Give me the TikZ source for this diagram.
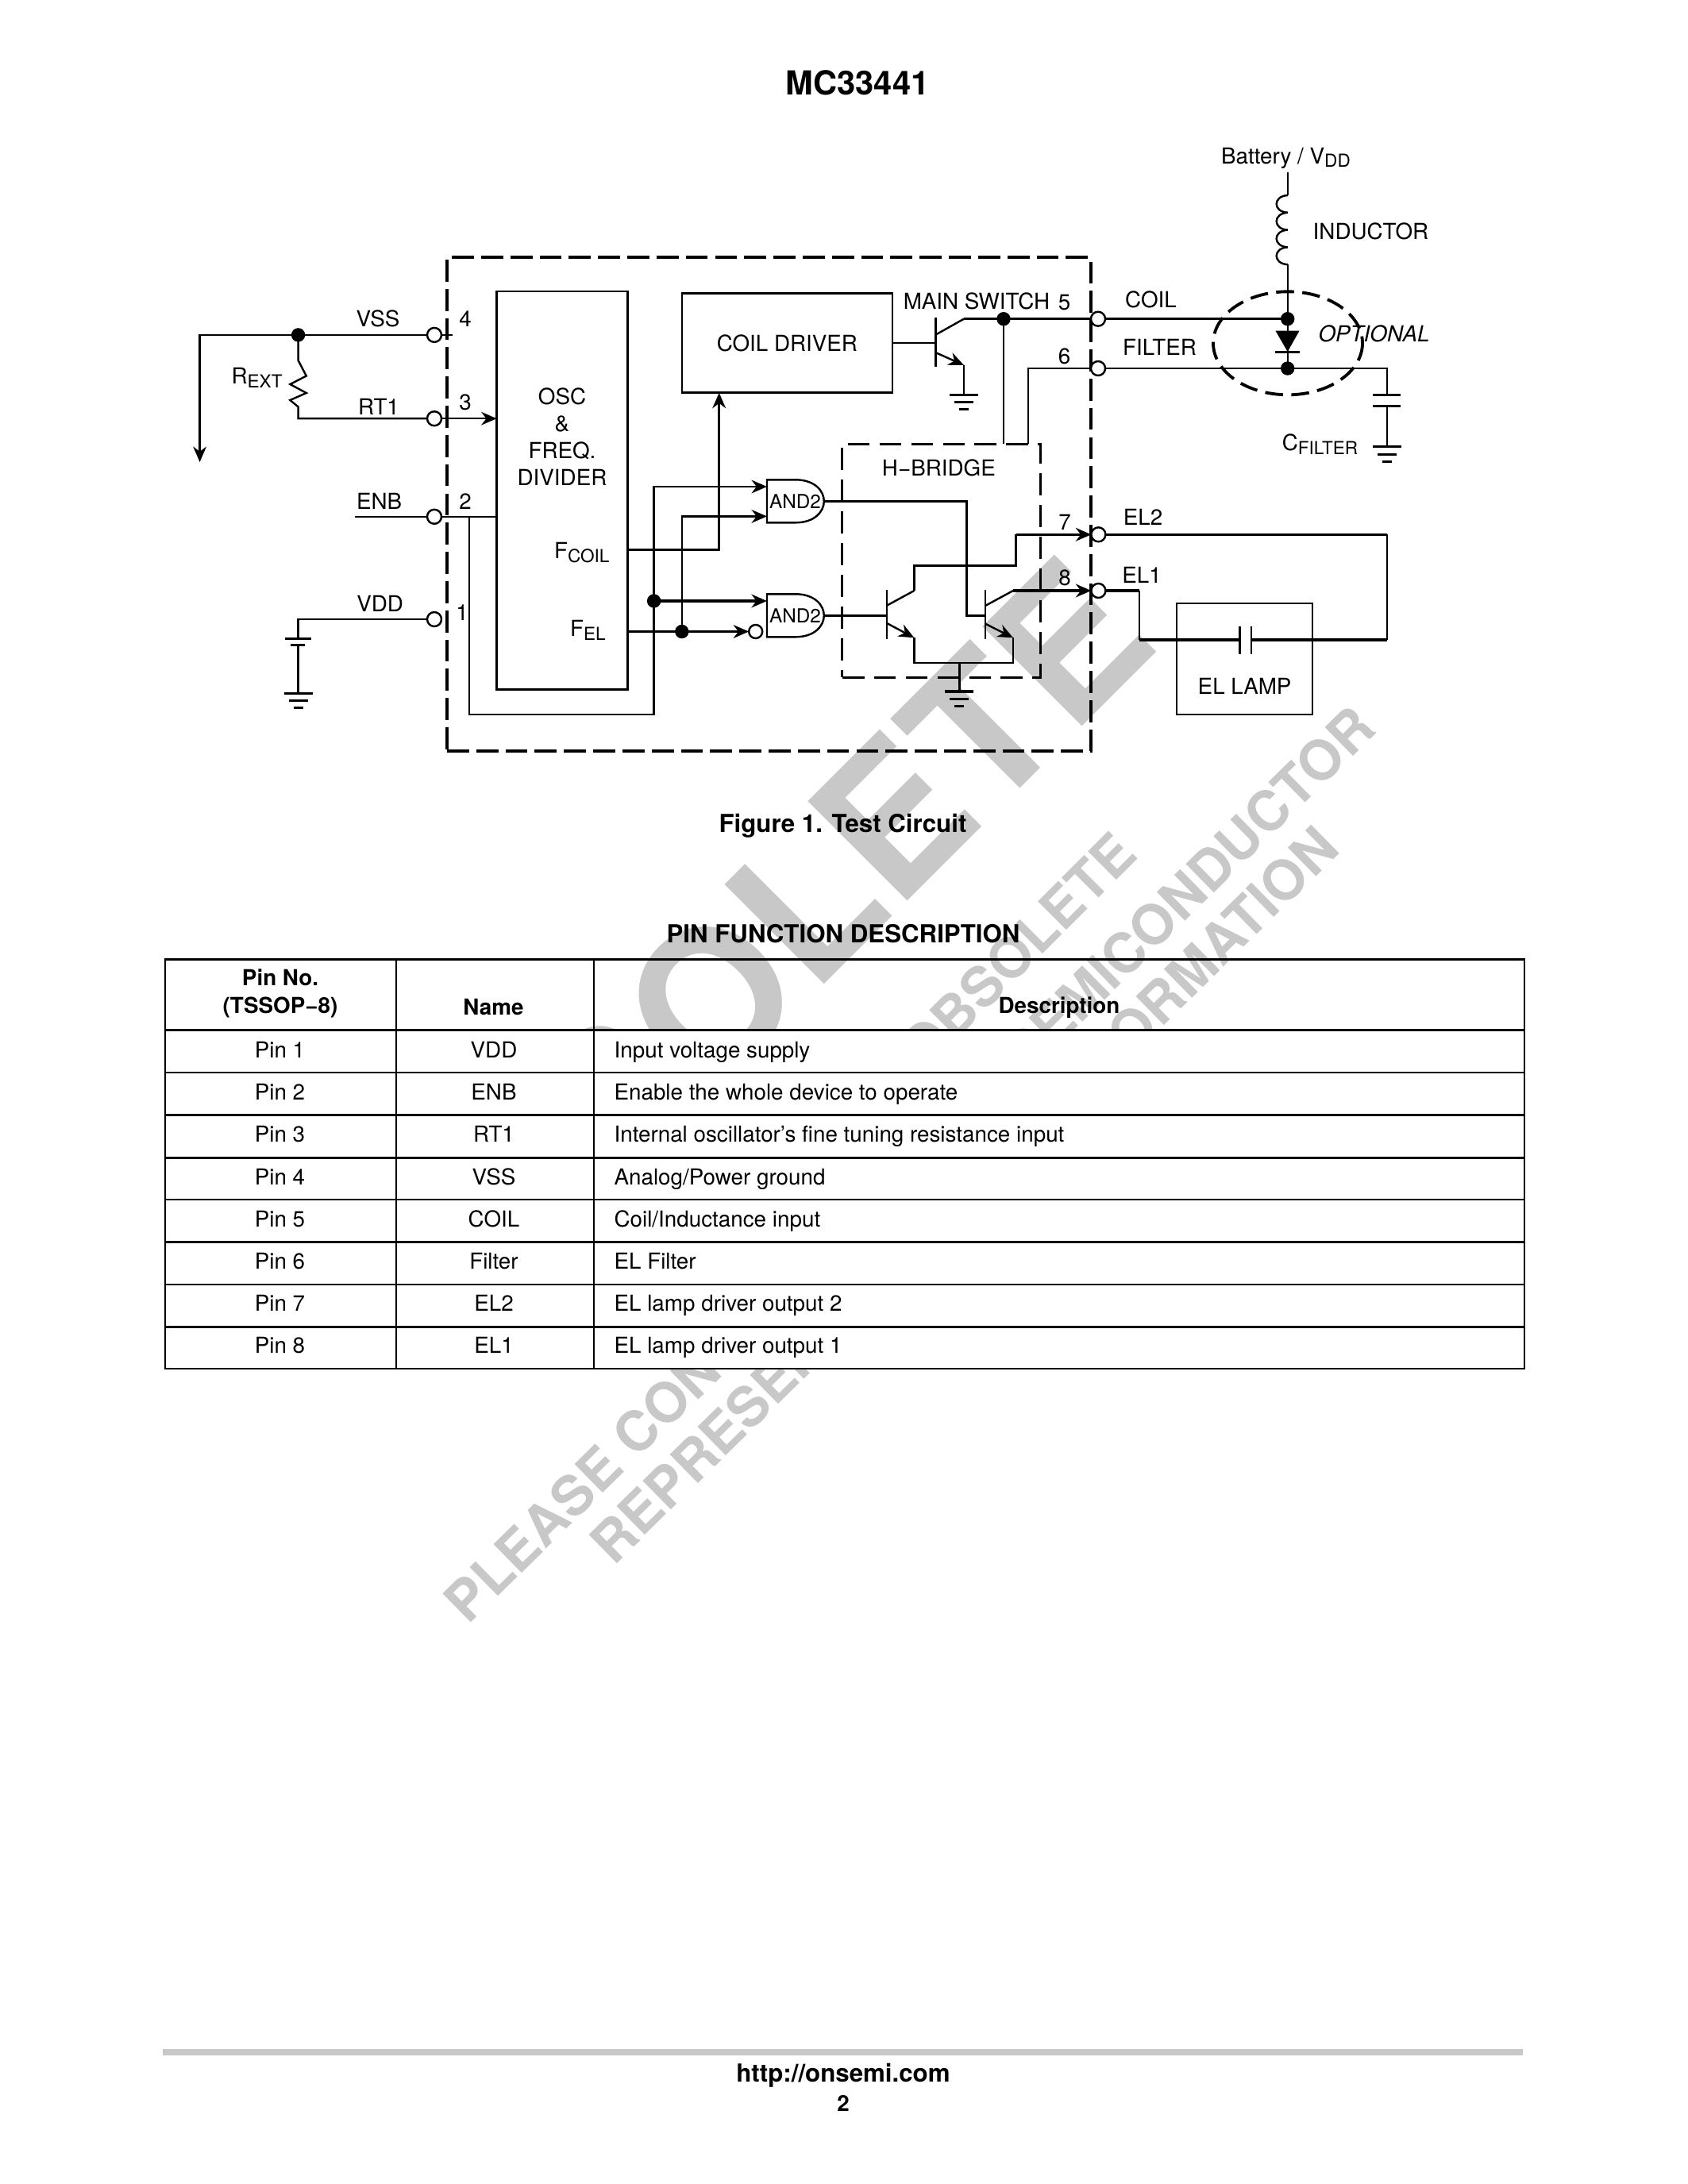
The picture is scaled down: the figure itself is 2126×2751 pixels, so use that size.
\documentclass[tikz,border=0pt]{standalone}
\usepackage{fontspec}
\setmainfont{TeX Gyre Heros}
\usetikzlibrary{positioning, calc, arrows.meta, shapes.geometric}
\newcommand{\lowtext}[1]{\raisebox{-1.4pt}{\fontsize{6.5}{7}\selectfont #1}}
\def\px{0.28787pt}
\definecolor{markgray}{HTML}{C8C8C8}
\tikzset{
	earth/.pic={
		\draw[line width=0.95pt] (-18,0) -- (18,0);
		\draw[line width=0.85pt] (-12,9.5) -- (12,9.5);
		\draw[line width=0.85pt] (-6,18.5) -- (6,18.5);
	}
}

\begin{document}
\begin{tikzpicture}[
		x=0.28787pt, y=-0.28787pt,
		every node/.style={inner sep=0pt, outer sep=0pt, font=\fontsize{8}{9.6}\selectfont},
		wire/.style={line width=0.7pt},
		heavy/.style={line width=0.95pt},
		arrow/.style={-{Stealth[length=5.6pt,width=4.8pt]}, line width=0.7pt},
		block/.style={draw, rectangle, line width=0.7pt},
		chipbox/.style={draw, rectangle, line width=1.2pt, dash pattern=on 8pt off 2.6pt},
		bridgebox/.style={draw, rectangle, line width=0.85pt, dash pattern=on 8pt off 3.5pt},
		pinnode/.style={draw, circle, fill=white, line width=0.7pt, minimum size=18*\px},
		dotnode/.style={draw, circle, fill=black, minimum size=16*\px},
		marktext/.style={text=markgray, anchor=base east, rotate=45},
		headtext/.style={font=\fontsize{8}{9.6}\bfseries\selectfont},
		rowtext/.style={text height=6pt, text depth=1.7pt}
		]
		\useasboundingbox (0,0) rectangle (2126,2751);

		% watermark behind everything
		\node[marktext, font=\fontsize{70}{70}\bfseries\selectfont] (markbig) at (1464,814) {OBSOLETE};
		\node[marktext, font=\fontsize{20}{20}\bfseries\selectfont] (markone) at (1435,1080) {THIS DEVICE IS OBSOLETE};
		\node[marktext, rotate=-0.5, font=\fontsize{20}{20}\bfseries\selectfont] (marktwo) at (1736,921) {PLEASE CONTACT YOUR ON SEMICONDUCTOR};
		\node[marktext, rotate=-0.5, font=\fontsize{20}{20}\bfseries\selectfont] (markthree) at (1690,1072) {REPRESENTATIVE FOR INFORMATION};
		\fill[white] (208,1297.4) rectangle (1920,1724);

		% Heading
		\node[font=\fontsize{12}{14}\bfseries\selectfont] (title) at (1080,104) {MC33441};

		% Blocks
		\node[chipbox, minimum width=810.6*\px, minimum height=622*\px] (chip) at (968.3,635) {};
		\node[block, minimum width=164.8*\px, minimum height=501.5*\px] (osc) at (708,617.75) {};
		\node[align=center, font=\fontsize{8}{9.8}\selectfont] (osctext) at (708,550) {OSC\\\&\\FREQ.\\DIVIDER};
		\node[block, minimum width=265.2*\px, minimum height=125.3*\px] (coildriver) at (991.4,432) {COIL DRIVER};
		\node[bridgebox, minimum width=249.9*\px, minimum height=294*\px] (hbridge) at (1185.65,706.3) {};
		\node (hbridgetext) at (1182.4,589.3) {H−BRIDGE};
		\node[block, minimum width=171*\px, minimum height=140*\px] (lamp) at (1567.5,830) {};
		\node (lamptext) at (1567.6,864) {EL LAMP};

		\node (fcoil) at (732.8,696) {F\lowtext{COIL}};
		\node (fel) at (740.4,793.5) {F\lowtext{EL}};

		% Gates
		\foreach \gname/\gy in {gatea/631.3, gateb/775.3}{
			\draw[wire, fill=white] (966,\gy-27) -- (1002,\gy-27) .. controls (1026,\gy-27) and (1037.8,\gy-13) .. (1037.8,\gy)
				.. controls (1037.8,\gy+13) and (1026,\gy+27) .. (1002,\gy+27) -- (966,\gy+27) -- cycle;
			\node[font=\fontsize{7}{8}\selectfont] (\gname) at (1001.5,\gy) {AND2};
		}
		\coordinate (gateain1) at (966,613);
		\coordinate (gateain2) at (966,650.4);
		\coordinate (gatebin1) at (966,757);
		\coordinate (gateaout) at (1037.8,631.3);
		\coordinate (gatebout) at (1037.8,775.3);

		% Pins and junctions
		\node[dotnode] (dotvss) at (375.6,421.9) {};
		\node[dotnode] (dotenb) at (823.6,757) {};
		\node[dotnode] (dotfel) at (858.8,795.5) {};
		\node[dotnode] (dotsw) at (1264,401.7) {};
		\node[dotnode] (dotcoil) at (1621.7,401.7) {};
		\node[dotnode] (dotfilter) at (1621.7,464) {};
		\node[pinnode, minimum size=17*\px] (bubble) at (951.7,795.5) {};
		\node[pinnode] (pinvss) at (547,421.9) {};
		\node[pinnode] (pinrt) at (547,527.2) {};
		\node[pinnode] (pinenb) at (547,650.8) {};
		\node[pinnode] (pinvdd) at (547,780) {};
		\node[pinnode] (pincoil) at (1383,401.7) {};
		\node[pinnode] (pinfilter) at (1383,464) {};
		\node[pinnode] (pinel2) at (1383.4,673.3) {};
		\node[pinnode] (pinel1) at (1383.4,744) {};

		% Left side wiring
		\coordinate (vsscorner) at (251.6,421.9);
		\coordinate (vsstip) at (251.6,582);
		\coordinate (vssstub) at (570,421.9);
		\draw[wire] (pinvss) -- (dotvss);
		\draw[wire] (pinvss) -- (vssstub);
		\draw[arrow] (dotvss) -- (vsscorner) -- (vsstip);
		\draw[wire] (dotvss) -- (375.6,454) -- (385.8,473.5) -- (365.4,484) -- (385.8,495) -- (365.4,504) -- (375.6,512.5) |- (pinrt);
		\draw[arrow] (pinrt) -- (osc.west |- pinrt);
		\coordinate (enbfree) at (447,650.8);
		\coordinate (enbtap) at (591,650.8);
		\coordinate (enbcorner) at (823.6,899.7);
		\draw[wire] (enbfree) -- (pinenb) -- (osc.west |- pinenb);
		\draw[arrow] (enbtap) |- (enbcorner) |- (gateain1);
		\coordinate (battop) at (375.6,804.3);
		\coordinate (batlow) at (375.6,812.6);
		\coordinate (batgnd) at (375.6,873.3);
		\draw[wire] (pinvdd) -| (battop);
		\draw[line width=0.95pt] (358.8,804.3) -- (392.4,804.3);
		\draw[line width=0.95pt] (366.4,812.6) -- (384.3,812.6);
		\draw[wire] (batlow) -- (batgnd);
		\pic at (batgnd) {earth};

		% OSC outputs
		\coordinate (fcoilout) at (790.4,692.4);
		\coordinate (coilin) at (905.7,494.7);
		\draw[arrow, heavy] (fcoilout) -| (coilin);
		\draw[arrow, heavy] (dotenb) -- (gatebin1);
		\draw[arrow, heavy] (osc.east |- bubble) -- (bubble);
		\draw[arrow] (dotfel) |- (gateain2);

		% Main switch
		\coordinate (mainbase) at (1178.3,432);
		\coordinate (mainemit) at (1214,460);
		\coordinate (maingnd) at (1214,497.3);
		\draw[wire] (coildriver.east) -- (mainbase);
		\draw[line width=0.8pt] (1178.3,400) -- (1178.3,461.7);
		\draw[wire] (1178.3,421.7) -- (1214,401.7);
		\draw[heavy] (1214,401.7) -- (dotsw) -- (pincoil) -- (dotcoil);
		\draw[arrow] (1178.3,444) -- (mainemit);
		\draw[wire] (mainemit) -- (maingnd);
		\pic at (maingnd) {earth};
		\draw[wire] (dotsw) -- (dotsw |- hbridge.north);
		\coordinate (filtercorner) at (1294.9,464);
		\draw[wire] (pinfilter) -- (filtercorner) -- (filtercorner |- hbridge.north);

		% H-bridge inner part
		\coordinate (tonebase) at (1117,775.3);
		\coordinate (ttwobase) at (1241,775.3);
		\coordinate (toneemit) at (1151.4,803.3);
		\coordinate (ttwoemit) at (1276,803.3);
		\coordinate (tonecoll) at (1151.4,744);
		\coordinate (ttwocoll) at (1276,744);
		\coordinate (bridgegnd) at (1208.3,871);
		\draw[heavy] (gatebout) -- (tonebase);
		\draw[heavy] (gateaout) -| (1217.4,775.3) -- (ttwobase);
		\draw[line width=0.8pt] (1117,743.3) -- (1117,805);
		\draw[line width=0.8pt] (1241,742.7) -- (1241,805);
		\draw[wire] (1117,762.7) -- (tonecoll);
		\draw[wire] (1241,763) -- (ttwocoll);
		\draw[arrow] (1117,785) -- (toneemit);
		\draw[arrow] (1241,785.7) -- (ttwoemit);
		\draw[wire] (toneemit) |- (1208.3,835) -- (bridgegnd);
		\draw[wire] (1208.3,835) -| (ttwoemit);
		\pic at (bridgegnd) {earth};
		\draw[wire] (tonecoll) -- (1151.4,712.7) -| (1279.5,673.3);
		\draw[arrow, heavy] (1279.5,673.3) -- (pinel2);
		\draw[arrow, heavy] (ttwocoll) -- (pinel1);

		% Right side
		\coordinate (el2corner) at (1746.8,673.3);
		\coordinate (el2low) at (1746.8,806);
		\coordinate (el1corner) at (1435,744);
		\coordinate (el1low) at (1435,806);
		\draw[heavy] (pinel2) -- (el2corner);
		\draw[wire] (el2corner) -- (el2low);
		\draw[heavy] (el2low) -- (1576,806);
		\draw[heavy] (pinel1) -- (el1corner);
		\draw[wire] (el1corner) -- (el1low);
		\draw[heavy] (el1low) -- (1561.3,806);
		\draw[wire] (1561.3,789.3) -- (1561.3,824);
		\draw[wire] (1576,789.3) -- (1576,824);

		% Inductor and diode
		\coordinate (battery) at (1621.7,217.3);
		\draw[wire] (battery) -- (1621.7,246);
		\foreach \i in {0,1,2,3}{
			\draw[wire] (1621.7,246+\i*21.8) .. controls (1603,247+\i*21.8) and (1603,266.8+\i*21.8) .. (1621.7,267.8+\i*21.8);
		}
		\draw[wire] (1621.7,333.2) -- (dotcoil);
		\draw[wire] (dotcoil) -- (dotfilter);
		\fill (1606.5,416.7) -- (1636.5,416.7) -- (1621.7,443) -- cycle;
		\draw[line width=0.95pt] (1606,443.3) -- (1637,443.3);
		\draw[line width=1.1pt, dash pattern=on 6.5pt off 3pt] (1622,432.3) ellipse [x radius=94, y radius=65];
		\coordinate (capcorner) at (1746.9,464);
		\coordinate (captop) at (1746.9,497.3);
		\coordinate (caplow) at (1746.9,511.7);
		\coordinate (capgnd) at (1746.9,562.7);
		\draw[wire] (pinfilter) -- (capcorner) -- (captop);
		\draw[line width=0.95pt] (1729,497.3) -- (1764,497.3);
		\draw[wire] (1729,511.7) -- (1764,511.7);
		\draw[wire] (caplow) -- (capgnd);
		\pic at (capgnd) {earth};

		% Labels
		\node (lblvss) at (476,401) {VSS};
		\node (lblrt) at (477,512.5) {RT1};
		\node (lblenb) at (477.6,631.7) {ENB};
		\node (lblvdd) at (478.6,760.5) {VDD};
		\node (numfour) at (586,402) {4};
		\node (numthree) at (586,507) {3};
		\node (numtwo) at (586,632) {2};
		\node (numone) at (582,772) {1};
		\node (lblrext) at (323.6,475.6) {R\lowtext{EXT}};
		\node (lblswitch) at (1230,379) {MAIN SWITCH};
		\node (numfive) at (1340.5,380.7) {5};
		\node (numsix) at (1340.5,448.7) {6};
		\node (numseven) at (1341,658) {7};
		\node (numeight) at (1341,728) {8};
		\node (lblcoil) at (1449.5,377) {COIL};
		\node (lblfilter) at (1460.5,437) {FILTER};
		\node (lblel2) at (1439.5,651.7) {EL2};
		\node (lblel1) at (1438,724.3) {EL1};
		\node (lblbattery) at (1619.5,199) {Battery / V\lowtext{DD}};
		\node (lblinductor) at (1726.5,291) {INDUCTOR};
		\node[font=\fontsize{8}{9.6}\itshape\selectfont] (lbloptional) at (1730.5,420.7) {OPTIONAL};
		\node (lblcfilter) at (1662.5,560) {C\lowtext{FILTER}};

		\node[font=\fontsize{9}{11}\bfseries\selectfont] (caption) at (1061.5,1040) {Figure 1. Test Circuit};
		\node[font=\fontsize{9}{11}\bfseries\selectfont] (tabletitle) at (1062,1176) {PIN FUNCTION DESCRIPTION};

		% Table
		\draw[line width=0.8pt] (208,1208.5) rectangle (1920,1724);
		\draw[line width=0.8pt] (499,1208.5) -- (499,1724);
		\draw[line width=0.8pt] (748,1208.5) -- (748,1724);
		\draw[line width=1pt] (208,1297.4) -- (1920,1297.4);
		\foreach \ly in {1350.9,1404.3,1458.6,1511,1564.7,1618,1671.6}{
			\draw[line width=0.75pt] (208,\ly) -- (1920,\ly);
		}
		\node[headtext] (headpin) at (353,1231) {Pin No.};
		\node[headtext, below=1.5mm of headpin] (headpack) {(TSSOP−8)};
		\node[headtext] (headname) at (621.5,1268.5) {Name};
		\node[headtext] (headdesc) at (1334,1269.5) {Description};
		\foreach \rowy/\pinno/\pinname/\pindesc in {
			1325.2/1/VDD/Input voltage supply,
			1378/2/ENB/Enable the whole device to operate,
			1431.5/3/RT1/Internal oscillator’s fine tuning resistance input,
			1485/4/VSS/Analog\slash Power ground,
			1538/5/COIL/Coil\slash Inductance input,
			1591/6/Filter/EL Filter,
			1644/7/EL2/EL lamp driver output 2,
			1697.5/8/EL1/EL lamp driver output 1}{
			\node[rowtext] (pinno\pinno) at (352.5,\rowy) {Pin \pinno};
			\node[rowtext] (pinname\pinno) at (622,\rowy) {\pinname};
			\node[rowtext, anchor=west] (pindesc\pinno) at (773.6,\rowy) {\pindesc};
		}

		% Footer
		\draw[line width=2.2pt, markgray] (205,2584.7) -- (1918,2584.7);
		\node[font=\fontsize{9}{11}\bfseries\selectfont] (footer) at (1062,2614.5) {http://onsemi.com};
		\node[font=\fontsize{8}{10}\bfseries\selectfont, below=1mm of footer] (pageno) {2};

	\end{tikzpicture}
\end{document}
